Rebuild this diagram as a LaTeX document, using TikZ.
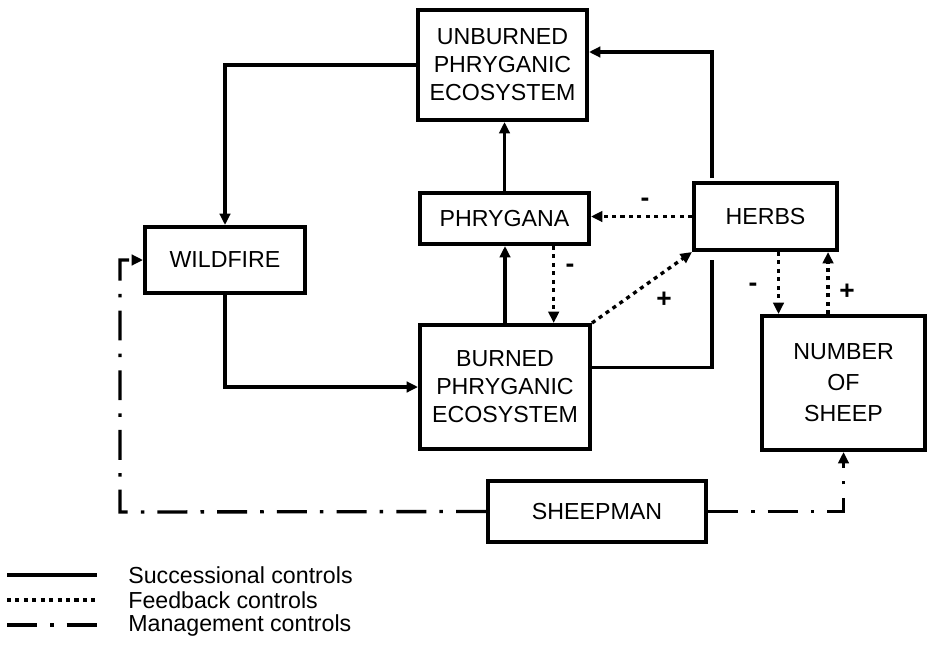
\documentclass[tikz,border=0pt]{standalone}
\usepackage{fontspec}
\setmainfont{Liberation Sans}
\usetikzlibrary{arrows.meta}
\tikzstyle{compartment}=[draw, line width=2.3pt, align=center, inner sep=0, font=\fontsize{13.2}{15.9}\selectfont]
\tikzstyle{control}=[line width=1.9pt, -{Triangle[length=6.5pt, width=6pt]}]
\tikzstyle{succession}=[control]
\tikzstyle{feedback}=[control, dash pattern=on 2.3pt off 2.5pt]
\tikzstyle{management}=[control, dash pattern=on 17pt off 7.5pt on 2pt off 7.5pt]
\tikzstyle{sign}=[font=\fontsize{15}{18}\selectfont\bfseries, inner sep=1pt]
\tikzstyle{legend text}=[anchor=west, inner sep=0, font=\fontsize{13.2}{15.9}\selectfont]

\begin{document}
\begin{tikzpicture}[x=0.02cm, y=-0.02cm]
          \useasboundingbox (0,0) rectangle (929,646);

          \node[compartment, minimum width=3.38cm, minimum height=2.2cm] (unburned) at (502.5, 65) {UNBURNED\\PHRYGANIC\\ECOSYSTEM};
          \node[compartment, minimum width=3.38cm, minimum height=1.02cm] (phrygana) at (504.5, 218.5) {PHRYGANA};
          \node[compartment, minimum width=2.86cm, minimum height=1.34cm] (herbs) at (765.5, 216.5) {HERBS};
          \node[compartment, minimum width=3.2cm, minimum height=1.32cm] (wildfire) at (225, 260) {WILDFIRE};
          \node[compartment, minimum width=3.4cm, minimum height=2.48cm] (burned) at (505, 387) {BURNED\\PHRYGANIC\\ECOSYSTEM};
          \node[compartment, minimum width=3.26cm, minimum height=2.68cm, font=\fontsize{13.2}{17.6}\selectfont] (sheep) at (843.5, 383) {NUMBER\\OF\\SHEEP};
          \node[compartment, minimum width=4.36cm, minimum height=1.22cm] (sheepman) at (597, 511.5) {SHEEPMAN};

          \coordinate (herbs low) at (712, 260);
          \coordinate (herbs high) at (712, 178);
          \coordinate (mgmt corner) at (120, 512);

          % successional controls
          \draw[succession] (unburned.west) -| (wildfire.north);
          \draw[succession] (wildfire.south) |- (burned.west);
          \draw[succession] (burned.north) -- (burned.north |- phrygana.south);
          \draw[succession] (phrygana.north) -- (phrygana.north |- unburned.south);
          \draw[succession, -] ([yshift=11pt]burned.east) -| (herbs low);
          \draw[succession] (herbs high) |- ([yshift=7.4pt]unburned.east);

          % feedback controls
          \draw[feedback] (herbs.west) -- (herbs.west -| phrygana.east);
          \draw[feedback] ([xshift=28pt]phrygana.south) -- ([xshift=28pt]phrygana.south |- burned.north);
          \draw[feedback] (burned.north east) -- (herbs.south west);
          \draw[feedback] ([xshift=7.4pt]herbs.south) -- ([xshift=7.4pt]herbs.south |- sheep.north);
          \draw[feedback] ([xshift=-8.8pt]sheep.north) -- ([xshift=-8.8pt]sheep.north |- herbs.south);

          \node[sign] (sign herbs phrygana) at (645, 202) {-};
          \node[sign] (sign phrygana burned) at (570, 268) {-};
          \node[sign] (sign burned herbs) at (664, 300) {+};
          \node[sign] (sign herbs sheep) at (753, 287) {-};
          \node[sign] (sign sheep herbs) at (847, 292) {+};

          % management controls
          \draw[management] (sheepman.west) -- (mgmt corner) |- (wildfire.west);
          \draw[management] (sheepman.east) -| (sheep.south);

          % legend
          \foreach \y/\sty/\txt in {575/succession/Successional controls, 600/feedback/Feedback controls, 625/management/Management controls} {
            \node[legend text] (legend \y) at (128, \y) {\txt};
            \draw[\sty, -] (7, \y) -- (97, \y);
          }
        \end{tikzpicture}
\end{document}
